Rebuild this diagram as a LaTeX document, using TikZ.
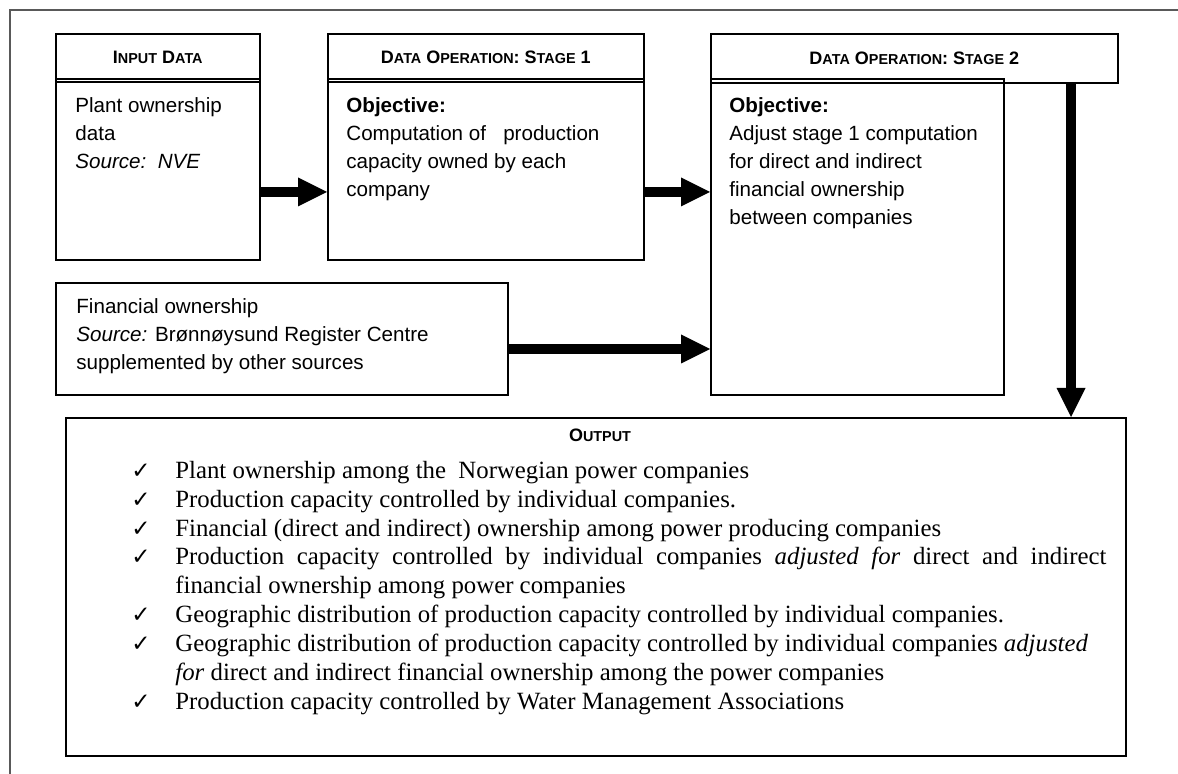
\documentclass[tikz,border=0pt]{standalone}
\usepackage{fontspec}
\setmainfont{Liberation Serif}
\setsansfont{Liberation Sans}
\newfontfamily\checkfont{DejaVu Sans}
\usetikzlibrary{arrows.meta}
\newcommand{\boxfont}{\sffamily\fontsize{10.3pt}{14pt}\selectfont}
\newcommand{\headfont}{\sffamily\bfseries\fontsize{9pt}{11pt}\selectfont}
\newcommand{\listfont}{\rmfamily\fontsize{12.4pt}{14.45pt}\selectfont}
\newcommand{\lc}[1]{{\fontsize{7.2pt}{9pt}\selectfont #1}}
\newcommand{\outitem}{\par\noindent\hangindent=18.5pt\hangafter=1\makebox[18.5pt][l]{\hspace*{-3.5pt}\checkfont\fontsize{11.5pt}{11.5pt}\selectfont ✓}}
\tikzset{
% Boxes of the flow chart and the texts in them
frame box/.style={draw,line width=0.8pt,anchor=north west,inner sep=0pt},
head text/.style={font=\headfont,inner sep=0pt},
box text/.style={anchor=north west,inner sep=0pt,align=left,font=\boxfont},
% Fat black arrows between the boxes
fat arrow/.style={line width=5pt,-{Triangle[length=14.5pt,width=14.5pt,line width=0pt]}}
}

\begin{document}
\begin{tikzpicture}[x=0.5pt,y=-0.5pt]
\useasboundingbox (0,0) rectangle (1178,774);
\draw[gray!70!black,line width=1pt] (10,774) -- (10,10) -- (1178,10);

\node[frame box,minimum width=102pt,minimum height=24pt] (inhead) at (55,33) {};
\node[frame box,minimum width=102pt,minimum height=90.5pt] (inbody) at (55,78) {};
\node[frame box,minimum width=158pt,minimum height=24pt] (s1head) at (327,33) {};
\node[frame box,minimum width=158pt,minimum height=90.5pt] (s1body) at (327,78) {};
\node[frame box,minimum width=203.5pt,minimum height=24.5pt] (s2head) at (710,33) {};
\node[frame box,minimum width=146.5pt,minimum height=158pt] (s2body) at (710,78) {};
\node[frame box,minimum width=226pt,minimum height=56pt] (fin) at (55,282) {};
\node[frame box,minimum width=530pt,minimum height=169pt] (out) at (65,417) {};

\node[head text] (inlabel) at (inhead.center) {I\lc{NPUT} D\lc{ATA}};
\node[head text] (s1label) at (s1head.center) {D\lc{ATA} O\lc{PERATION}: S\lc{TAGE} 1};
\node[head text] (s2label) at (s2head.center) {D\lc{ATA} O\lc{PERATION}: S\lc{TAGE} 2};
\node[head text] (outlabel) at (600,435) {O\lc{UTPUT}};

\node[box text] (intext) at (75,97) {Plant ownership\\data\\\textit{Source:\ \ NVE}};
\node[box text] (s1text) at (346,97) {\textbf{Objective:}\\Computation of\ \ \ production\\capacity owned by each\\company};
\node[box text] (s2text) at (729,97) {\textbf{Objective:}\\Adjust stage 1 computation\\for direct and indirect\\financial ownership\\between companies};
\node[box text] (fintext) at (76,298) {Financial ownership\\\textit{Source:} Brønnøysund Register Centre\\supplemented by other sources};

\node[anchor=north west,inner sep=0pt,text width=484pt,align=justify,font=\listfont] (outlist) at (138,449) {%
\outitem Plant ownership among the\ \ Norwegian power companies
\outitem Production capacity controlled by individual companies.
\outitem Financial (direct and indirect) ownership among power producing companies
\outitem Production capacity controlled by individual companies \textit{adjusted for} direct and indirect\linebreak financial ownership among power companies
\outitem Geographic distribution of production capacity controlled by individual companies.
\outitem Geographic distribution of production capacity controlled by individual companies \textit{adjusted}\newline\textit{for} direct and indirect financial ownership among the power companies
\outitem Production capacity controlled by Water Management Associations};

\draw[fat arrow] (inbody.east |- 0,192) -- (s1body.west |- 0,192);
\draw[fat arrow] (s1body.east |- 0,192) -- (s2body.west |- 0,192);
\draw[fat arrow] (fin.east |- 0,349) -- (s2body.west |- 0,349);
\draw[fat arrow] (s2head.south -| 1071,0) -- (out.north -| 1071,0);
\end{tikzpicture}
\end{document}
